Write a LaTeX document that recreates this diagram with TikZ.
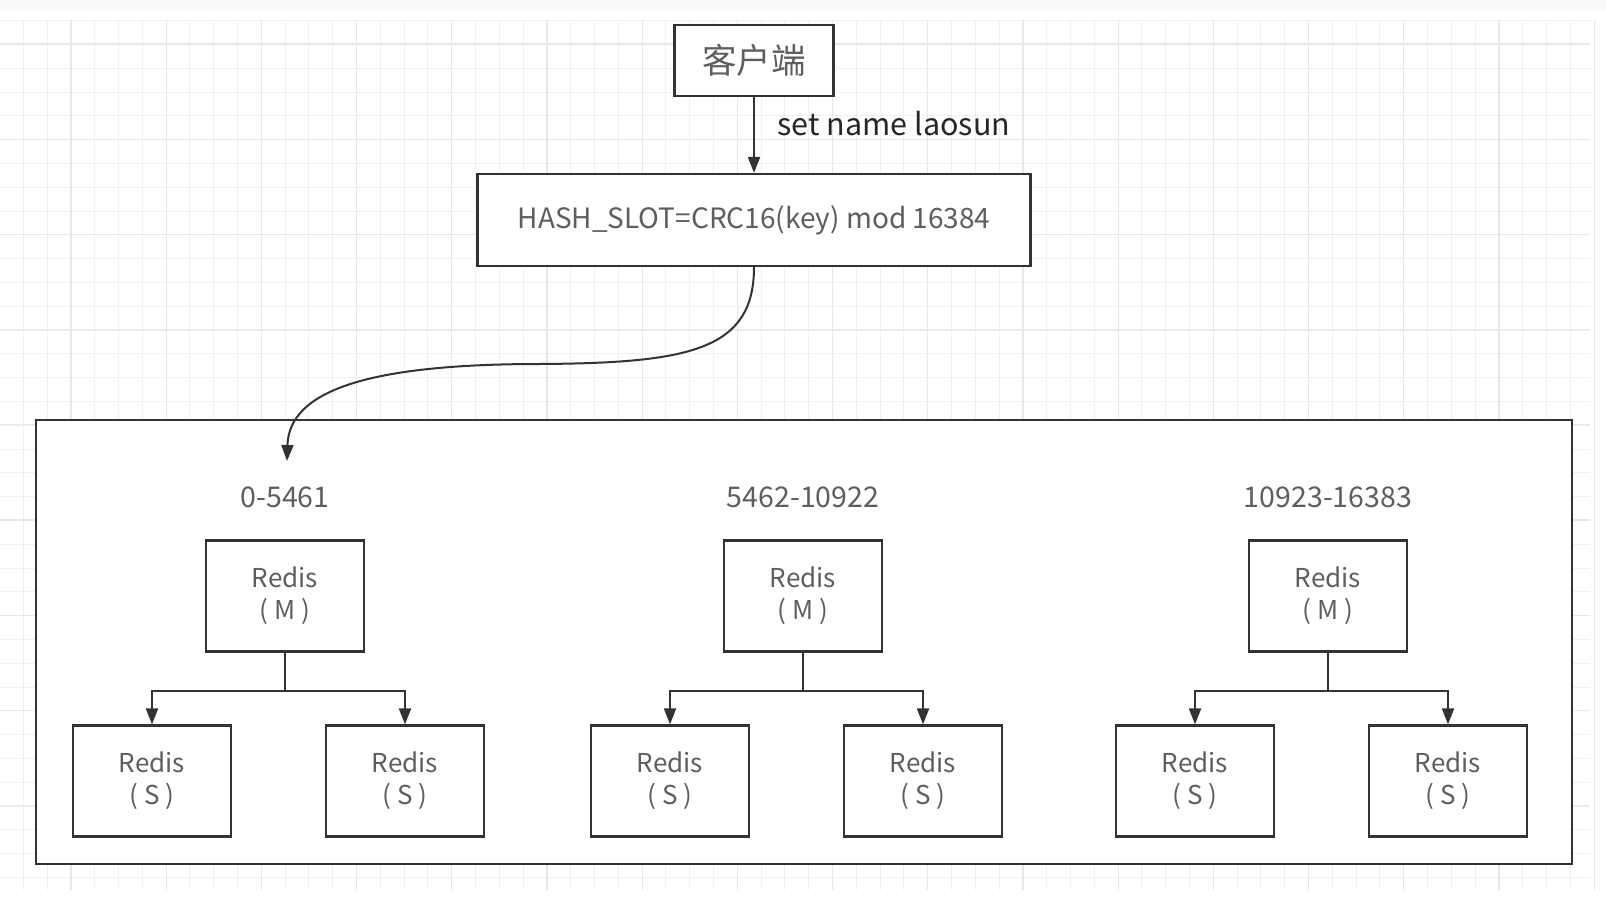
\documentclass[tikz,border=0pt]{standalone}
\usepackage{fontspec}
\setmainfont{Noto Sans CJK SC}
\usetikzlibrary{arrows.meta, positioning, calc}
\definecolor{linegray}{HTML}{333333}
\definecolor{textgray}{HTML}{5E5E5E}
\tikzset{
    box/.style={rectangle, draw=linegray, line width=2.2pt, fill=white, text=textgray, inner sep=0pt},
    redis/.style={box, minimum width=158pt, minimum height=111pt, align=center, font=\fontsize{26}{32}\selectfont},
    slot/.style={text=textgray, font=\fontsize{28.5}{30}\selectfont},
    arrow/.style={line width=2pt, draw=linegray, -{Triangle[length=16pt,width=12pt]}},
    gridline/.style={draw=black!6, line width=1pt},
    gridmajor/.style={draw=black!9, line width=1.2pt}
}

\begin{document}
\begin{tikzpicture}[x=1pt, y=-1pt]
    \useasboundingbox (0,0) rectangle (1606,912);
    \fill[white] (0,0) rectangle (1606,912);
    \fill[black!2] (0,0) rectangle (1606,12);

    % background grid
    \foreach \k in {0,...,66} {
        \draw[gridline] (23.3+23.8*\k,20) -- (23.3+23.8*\k,890);
    }
    \foreach \k in {0,...,36} {
        \draw[gridline] (0,20.7+23.8*\k) -- (1590,20.7+23.8*\k);
    }
    \foreach \k in {0,...,16} {
        \draw[gridmajor] (71+95.2*\k,20) -- (71+95.2*\k,890);
    }
    \foreach \k in {0,...,8} {
        \draw[gridmajor] (0,44+95.2*\k) -- (1590,44+95.2*\k);
    }

    % client and hash slot
    \node (client) [box, minimum width=159pt, minimum height=71pt, font=\fontsize{34.5}{36}\selectfont] at (754,60.5) {客户端};
    \node (hash) [box, minimum width=553pt, minimum height=92pt, font=\fontsize{28}{30}\selectfont] at (754,220) {HASH\_SLOT=CRC16(key) mod 16384};
    \draw [arrow] (client.south) -- (hash.north);
    \node (cmd) [anchor=west, text=black!85, font=\fontsize{30.5}{32}\selectfont] at (774,124) {set name laosun};

    % cluster
    \node (cluster) [box, minimum width=1536pt, minimum height=444pt] at (804,642) {};
    \coordinate (entry) at (287,461);
    \draw [arrow] (hash.south) .. controls (754,350) and (690,363) .. (540,364)
        .. controls (370,364) and (289,390) .. (entry);

    % master / slave groups
    \foreach \i/\mx/\rng in {1/285/0-5461, 2/803/5462-10922, 3/1328/10923-16383} {
        \node (range\i) [slot] at (\mx,497) {\rng};
        \node (master\i) [redis] at (\mx,596) {Redis\\( M )};
        \node (slaveL\i) [redis] at (\mx-133,781) {Redis\\( S )};
        \node (slaveR\i) [redis] at (\mx+120,781) {Redis\\( S )};
        \draw [arrow] (master\i.south) -- ++(0,38) -| (slaveL\i.north);
        \draw [arrow] (master\i.south) -- ++(0,38) -| (slaveR\i.north);
    }
\end{tikzpicture}
\end{document}
